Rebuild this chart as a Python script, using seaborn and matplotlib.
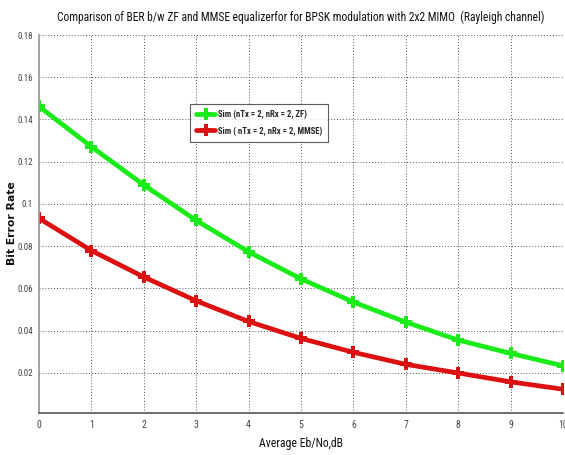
import matplotlib
matplotlib.use("Agg")
import matplotlib.pyplot as plt
from matplotlib import font_manager
import pandas as pd
import seaborn as sns

# Eb/No sweep and simulated bit error rates
ebno_db = [0, 1, 2, 3, 4, 5, 6, 7, 8, 9, 10]
ber_zf = [0.1462, 0.1271, 0.1090, 0.0922, 0.0773, 0.0645, 0.0535, 0.0440, 0.0355, 0.0292, 0.0233]
ber_mmse = [0.0932, 0.0779, 0.0654, 0.0541, 0.0443, 0.0363, 0.0297, 0.0240, 0.0199, 0.0157, 0.0122]
series_names = ["Sim (nTx = 2, nRx = 2, ZF)", "Sim ( nTx = 2, nRx = 2, MMSE)"]
y_ticks = [0.02, 0.04, 0.06, 0.08, 0.10, 0.12, 0.14, 0.16, 0.18]
y_tick_labels = ["0.02", "0.04", "0.06", "0.08", "0.1", "0.12", "0.14", "0.16", "0.18"]
x_ticks = [0, 1, 2, 3, 4, 5, 6, 7, 8, 9, 10]
title_text = ("Comparison of BER b/w ZF and MMSE equalizerfor for BPSK "
              "modulation with 2x2 MIMO  (Rayleigh channel)")

df = pd.DataFrame({
    "ebno": ebno_db * 2,
    "ber": ber_zf + ber_mmse,
    "series": [series_names[0]] * len(ebno_db) + [series_names[1]] * len(ebno_db),
})

sns.set_style("white")
available = {f.name for f in font_manager.fontManager.ttflist}
face = next((n for n in ["Liberation Sans Narrow", "Roboto Condensed",
                         "Liberation Sans", "Roboto"] if n in available), "DejaVu Sans")
plt.rcParams["font.family"] = [face, "DejaVu Sans"]

fig = plt.figure(figsize=(5.65, 4.55), dpi=100)
ax = fig.add_axes([0.0689, 0.0916, 0.9277, 0.8314])

palette = {series_names[0]: "#19ec19", series_names[1]: "#dc1010"}
sns.lineplot(data=df, x="ebno", y="ber", hue="series", palette=palette,
             marker="P", markersize=8, markeredgewidth=0, linewidth=3.4,
             ax=ax, legend=True)

ax.set_xlim(0, 10)
ax.set_ylim(0.0008, 0.18)
ax.set_xticks(x_ticks)
ax.set_xticklabels([str(v) for v in x_ticks])
ax.set_yticks(y_ticks)
ax.set_yticklabels(y_tick_labels)

ax.grid(True, linestyle=(0, (1, 2)), linewidth=0.7, color="#555555")
for side in ("top", "right"):
    ax.spines[side].set_visible(False)
ax.spines["left"].set_color("#999999")
ax.spines["left"].set_linewidth(1.2)
ax.spines["bottom"].set_color("#555555")
ax.spines["bottom"].set_linewidth(1.2)

ax.tick_params(axis="x", direction="in", length=5, width=0.8, color="#888888",
               labelsize=7, labelcolor="#444444", pad=5)
ax.tick_params(axis="y", direction="out", length=3, width=0.8, color="#555555",
               labelsize=6.5, labelcolor="#444444", pad=1.5)

title = fig.text(0.533, 1 - 17 / 455, title_text, ha="center", va="center",
                 fontsize=9, color="#111111")
xlab = fig.text(0.533, 1 - 444 / 455, "Average Eb/No,dB", ha="center", va="center",
                fontsize=9, color="#111111")
ax.set_xlabel("")
ax.set_ylabel("")
ylab = fig.text(12 / 565, 1 - 223 / 455, "Bit Error Rate", ha="center", va="center",
                rotation=90, fontsize=7.8, fontweight="bold", color="#111111",
                family=["DejaVu Sans"])

leg = ax.legend(loc="upper left", bbox_to_anchor=((190 - 38.9) / 524.1, (413.3 - 104) / 378.3),
                frameon=True, fancybox=False, fontsize=7, handlelength=2.0,
                borderpad=0.6, labelspacing=0.75, handletextpad=0.3, borderaxespad=0)
leg.get_frame().set_edgecolor("#333333")
leg.get_frame().set_linewidth(0.8)
for t in leg.get_texts():
    t.set_fontweight("bold")


def fit_width(text_obj, target_px, renderer):
    width = text_obj.get_window_extent(renderer).width
    text_obj.set_fontsize(text_obj.get_fontsize() * target_px / width)


renderer = fig.canvas.get_renderer()
fit_width(title, 488, renderer)
fit_width(xlab, 84, renderer)
fit_width(leg.get_texts()[1], 104, renderer)
leg.get_texts()[0].set_fontsize(leg.get_texts()[1].get_fontsize())

fig.savefig("out.png", dpi=100)
